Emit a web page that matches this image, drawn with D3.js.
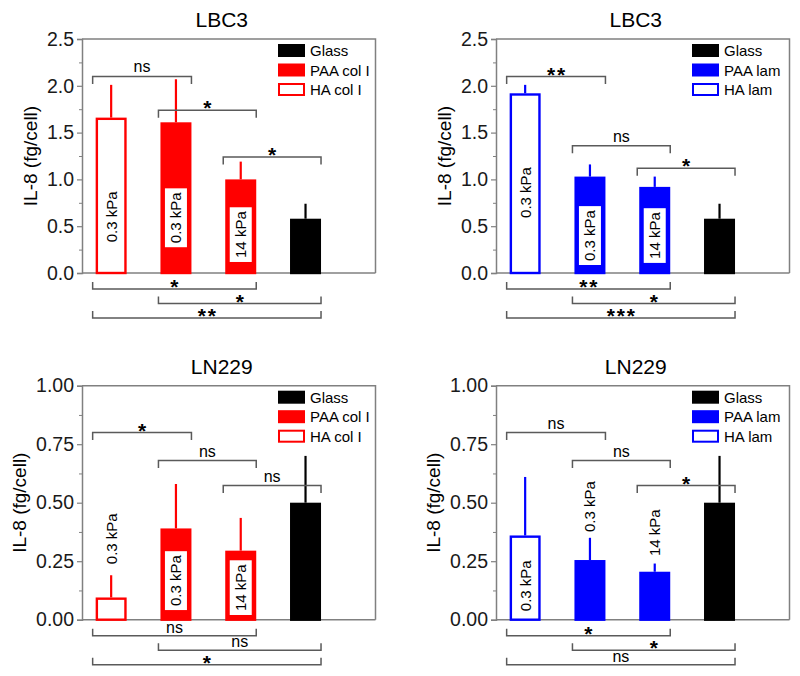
<!DOCTYPE html>
<html><head><meta charset="utf-8">
<script src="https://cdn.jsdelivr.net/npm/d3@7"></script>
<style>body{margin:0;background:#fff}svg{display:block}text{font-family:Arial,"Liberation Sans",sans-serif}</style>
</head><body><svg id="c" width="800" height="676"></svg>
<script>
// ---- data ----
const barCategories = ["HA 0.3 kPa", "PAA 0.3 kPa", "PAA 14 kPa", "Glass"];
const stiffnessLabels = ["0.3 kPa", "0.3 kPa", "14 kPa"];
const lbc3ColMean = [1.66, 1.61, 1.00, 0.58];
const lbc3ColErr  = [0.35, 0.46, 0.19, 0.16];
const lbc3LamMean = [1.92, 1.03, 0.92, 0.58];
const lbc3LamErr  = [0.09, 0.13, 0.11, 0.16];
const ln229ColMean = [0.095, 0.39, 0.295, 0.50];
const ln229ColErr  = [0.095, 0.19, 0.14, 0.20];
const ln229LamMean = [0.36, 0.255, 0.205, 0.50];
const ln229LamErr  = [0.25, 0.095, 0.035, 0.20];
const lbc3Ticks = ["0.0", "0.5", "1.0", "1.5", "2.0", "2.5"];
const ln229Ticks = ["0.00", "0.25", "0.50", "0.75", "1.00"];
const colLegend = ["Glass", "PAA col I", "HA col I"];
const lamLegend = ["Glass", "PAA lam", "HA lam"];
const sigPairs = [[0, 1], [1, 2], [2, 3], [0, 2], [1, 3], [0, 3]];
const lbc3ColSig  = ["ns", "*", "*", "*", "*", "**"];
const lbc3LamSig  = ["**", "ns", "*", "**", "*", "***"];
const ln229ColSig = ["*", "ns", "ns", "ns", "ns", "*"];
const ln229LamSig = ["ns", "ns", "*", "*", "*", "ns"];
// heights (in data units) of the upper brackets
const lbc3ColBracket  = [2.10, 1.74, 1.24];
const lbc3LamBracket  = [2.10, 1.36, 1.12];
const ln229ColBracket = [0.80, 0.68, 0.573];
const ln229LamBracket = [0.80, 0.68, 0.573];
// value at the centre of each stiffness label
const lbc3ColLabelAt  = [0.60, 0.59, 0.41];
const lbc3LamLabelAt  = [0.86, 0.40, 0.40];
const ln229ColLabelAt = [0.346, 0.167, 0.137];
const ln229LamLabelAt = [0.145, 0.483, 0.372];

const RED = "#ff0000", BLUE = "#0000ff";
const panels = [
  {title: "LBC3", mean: lbc3ColMean, err: lbc3ColErr, ticks: lbc3Ticks, legend: colLegend, sig: lbc3ColSig, br: lbc3ColBracket, lab: lbc3ColLabelAt, color: RED, col: 0, row: 0},
  {title: "LBC3", mean: lbc3LamMean, err: lbc3LamErr, ticks: lbc3Ticks, legend: lamLegend, sig: lbc3LamSig, br: lbc3LamBracket, lab: lbc3LamLabelAt, color: BLUE, col: 1, row: 0},
  {title: "LN229", mean: ln229ColMean, err: ln229ColErr, ticks: ln229Ticks, legend: colLegend, sig: ln229ColSig, br: ln229ColBracket, lab: ln229ColLabelAt, color: RED, col: 0, row: 1},
  {title: "LN229", mean: ln229LamMean, err: ln229LamErr, ticks: ln229Ticks, legend: lamLegend, sig: ln229LamSig, br: ln229LamBracket, lab: ln229LamLabelAt, color: BLUE, col: 1, row: 1}
];

const svg = d3.select("#c");
const colLeft = [82, 496], rowTop = [39, 385.7];
const W = 293.5, H = 234;
const AX = "#808080", BR = "#5a5a5a";

panels.forEach(p => {
  const L = colLeft[p.col], T = rowTop[p.row], R = L + W, B = T + H;
  const g = svg.append("g");
  const tickVals = p.ticks.map(Number);
  const yMax = d3.max(tickVals);
  const y = d3.scaleLinear().domain([0, yMax]).range([B, T]);
  const x = d3.scaleLinear().domain([0.55, 5.08]).range([L, R]);
  const bw = 31;
  const cx = i => x(i + 1);

  // frame
  g.append("path").attr("d", `M${L},${T}H${R}V${B}`).attr("fill", "none").attr("stroke", AX).attr("stroke-width", 1.5);
  // y axis
  const step = tickVals[1] - tickVals[0];
  const minor = d3.range(step / 2, yMax, step);
  const ax = g.append("g").attr("transform", `translate(${L},0)`)
    .call(d3.axisLeft(y).tickValues(tickVals).tickFormat((d, i) => p.ticks[i]).tickSize(5).tickPadding(3));
  ax.select(".domain").attr("stroke", AX).attr("stroke-width", 1.5);
  ax.selectAll(".tick line").attr("stroke", AX).attr("stroke-width", 1.2);
  ax.selectAll(".tick text").attr("font-size", 19.5).attr("fill", "#1a1a1a").attr("font-family", "Arial, 'Liberation Sans', sans-serif");
  g.append("g").attr("transform", `translate(${L},0)`)
    .call(d3.axisLeft(y).tickValues(minor).tickFormat("").tickSize(3))
    .call(s => { s.select(".domain").remove(); s.selectAll("line").attr("stroke", AX); });
  // bottom axis line
  g.append("line").attr("x1", L).attr("x2", R).attr("y1", B).attr("y2", B).attr("stroke", AX).attr("stroke-width", 1.5);

  // title & y label
  g.append("text").attr("x", (L + R) / 2 - 7).attr("y", T - 12).attr("text-anchor", "middle").attr("font-size", 21).text(p.title);
  const labX = p.ticks[0].length > 3 ? L - 62 : L - 51;
  g.append("text").attr("transform", `translate(${labX + 6},${(T + B) / 2}) rotate(-90)`)
    .attr("text-anchor", "middle").attr("font-size", 19).text("IL-8 (fg/cell)");

  // bars
  const fillOf = i => i === 3 ? "#000" : (i === 0 ? "#fff" : p.color);
  const strokeOf = i => i === 3 ? "#000" : p.color;
  const idx = d3.range(barCategories.length);
  g.selectAll(".err").data(idx).join("line")
    .attr("x1", cx).attr("x2", cx)
    .attr("y1", i => y(p.mean[i])).attr("y2", i => y(p.mean[i] + p.err[i]))
    .attr("stroke", strokeOf).attr("stroke-width", 2.2);
  g.selectAll(".bar").data(idx).join("rect")
    .attr("x", i => cx(i) - bw / 2 + 1.2).attr("width", bw - 2.4)
    .attr("y", i => y(p.mean[i]) + 1.2).attr("height", i => y(0) - y(p.mean[i]) - 1.2)
    .attr("fill", fillOf).attr("stroke", strokeOf).attr("stroke-width", 2.4);

  // stiffness labels
  stiffnessLabels.forEach((t, i) => {
    const cy = y(p.lab[i]);
    const lg = g.append("g").attr("transform", `translate(${cx(i)},${cy}) rotate(-90)`);
    const txt = lg.append("text").attr("text-anchor", "middle").attr("dy", "0.36em").attr("font-size", 15).text(t);
    const inside = p.lab[i] < p.mean[i];
    if (inside && i > 0) {
      const len = txt.node().getComputedTextLength();
      lg.insert("rect", "text").attr("x", -len / 2 - 4).attr("y", -11).attr("width", len + 8).attr("height", 22).attr("fill", "#fff");
    }
  });

  // legend
  const legColors = [["#000", "#000"], [p.color, p.color], ["#fff", p.color]];
  p.legend.forEach((t, i) => {
    const ly = T + 5 + i * 19.5;
    g.append("rect").attr("x", L + 197).attr("y", ly + 1).attr("width", 25).attr("height", 11)
      .attr("fill", legColors[i][0]).attr("stroke", legColors[i][1]).attr("stroke-width", 2);
    g.append("text").attr("x", L + 228).attr("y", ly + 12).attr("font-size", 15).text(t);
  });

  // significance brackets
  const bottomOff = [16, 30.5, 45];
  sigPairs.forEach(([a, b], k) => {
    const x1 = cx(a) - bw / 2 - (a === 0 ? 3 : 2), x2 = cx(b) + bw / 2;
    const top = k < 3;
    const ly = top ? y(p.br[k]) : B + bottomOff[k - 3];
    const tip = top ? 7.5 : -7;
    g.append("path").attr("d", `M${x1},${ly + tip}V${ly}H${x2}V${ly + tip}`)
      .attr("fill", "none").attr("stroke", BR).attr("stroke-width", 1.5);
    const s = p.sig[k], mid = (x1 + x2) / 2;
    if (s === "ns") {
      g.append("text").attr("x", mid).attr("y", ly - (top ? 4 : 3)).attr("text-anchor", "middle").attr("font-size", 16).text(s);
    } else {
      const fs = 21, centre = ly - 7;
      g.append("text").attr("x", mid + 0.9).attr("y", centre + 0.58 * fs).attr("text-anchor", "middle")
        .attr("font-size", fs).attr("font-weight", "bold").attr("letter-spacing", 1.8).text(s);
    }
  });
});
</script></body></html>
